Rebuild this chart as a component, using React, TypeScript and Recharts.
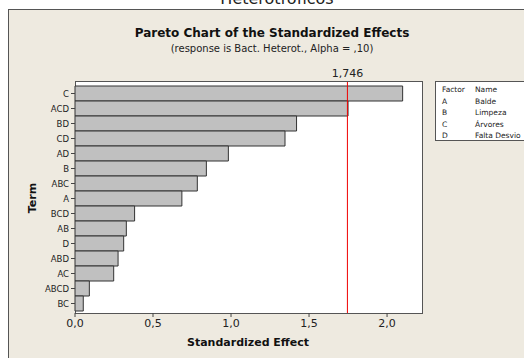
import { BarChart, Bar, XAxis, YAxis, ReferenceLine } from "recharts"

const terms = ["C", "ACD", "BD", "CD", "AD", "B", "ABC", "A", "BCD", "AB", "D", "ABD", "AC", "ABCD", "BC"]
const effects = [2.1, 1.75, 1.42, 1.346, 0.983, 0.842, 0.784, 0.685, 0.382, 0.329, 0.312, 0.276, 0.248, 0.092, 0.053]
const xTicks = [0, 0.5, 1, 1.5, 2]
const critical = 1.746

const factors = ["A", "B", "C", "D"]
const factorNames = ["Balde", "Limpeza", "Árvores", "Falta Desvio"]

const data = terms.map((t, i) => ({ term: t, effect: effects[i] }))

const font = "'DejaVu Sans', Verdana, sans-serif"
const fmt = (v: number) => v.toFixed(1).replace(".", ",")

export default function App() {
  return (
    <div style={{ position: "fixed", left: 0, top: 0, width: 524, height: 358, overflow: "hidden", background: "#fff", fontFamily: font }}>
      <div style={{ position: "absolute", left: 0, top: -11, width: 554, textAlign: "center", fontSize: 16, color: "#222" }}>
        Heterotróficos
      </div>
      <div style={{ position: "absolute", left: 8, top: 9, width: 530, height: 360, background: "#EEEAE0", border: "1px solid #555" }} />
      <div style={{ position: "absolute", left: 0, top: 26, width: 544, textAlign: "center", fontSize: 12, fontWeight: "bold", color: "#111" }}>
        Pareto Chart of the Standardized Effects
      </div>
      <div style={{ position: "absolute", left: 0, top: 43, width: 544, textAlign: "center", fontSize: 10, color: "#222" }}>
        (response is Bact. Heterot., Alpha = ,10)
      </div>
      <div style={{ position: "absolute", left: 75, top: 81, width: 346, height: 231, background: "#fff", border: "1px solid #555" }} />
      <div style={{ position: "absolute", left: 435, top: 81, width: 110, height: 58, background: "#fff", border: "1px solid #555" }}>
        <div style={{ display: "flex", fontSize: 7.5, color: "#222", paddingTop: 2, lineHeight: "11.5px" }}>
          <div style={{ width: 30, paddingLeft: 6 }}>
            <div>Factor</div>
            {factors.map((f) => <div key={f}>{f}</div>)}
          </div>
          <div style={{ paddingLeft: 3 }}>
            <div>Name</div>
            {factorNames.map((n) => <div key={n}>{n}</div>)}
          </div>
        </div>
      </div>
      <div style={{ position: "absolute", left: 32, top: 198, transform: "translate(-50%, -50%) rotate(-90deg)", fontSize: 11, fontWeight: "bold", color: "#111" }}>
        Term
      </div>
      <div style={{ position: "absolute", left: 248, top: 342, transform: "translate(-50%, -50%)", fontSize: 11, fontWeight: "bold", color: "#111", whiteSpace: "nowrap" }}>
        Standardized Effect
      </div>
      <div style={{ position: "absolute", left: 0, top: 0 }}>
        <BarChart
          width={524}
          height={358}
          data={data}
          layout="vertical"
          margin={{ top: 82, right: 102, bottom: 15, left: 30 }}
          barCategoryGap={0}
        >
          <XAxis
            type="number"
            domain={[0, 2.224]}
            ticks={xTicks}
            tickFormatter={fmt}
            axisLine={false}
            tickLine={{ stroke: "#444" }}
            tickSize={4}
            height={30}
            tick={{ fill: "#222", fontSize: 11, fontFamily: font }}
          />
          <YAxis
            type="category"
            dataKey="term"
            width={45}
            axisLine={false}
            tickLine={{ stroke: "#444" }}
            tickSize={4}
            padding={{ top: 4, bottom: 2 }}
            interval={0}
            tick={{ fill: "#222", fontSize: 8.5, fontFamily: font }}
          />
          <Bar dataKey="effect" fill="#C0C0C0" stroke="#333" strokeWidth={1} isAnimationActive={false} />
          <ReferenceLine
            x={critical}
            stroke="#F00000"
            strokeWidth={1}
            label={{ value: "1,746", position: "top", fill: "#222", fontSize: 11, fontFamily: font, offset: 5 }}
          />
        </BarChart>
      </div>
    </div>
  )
}
